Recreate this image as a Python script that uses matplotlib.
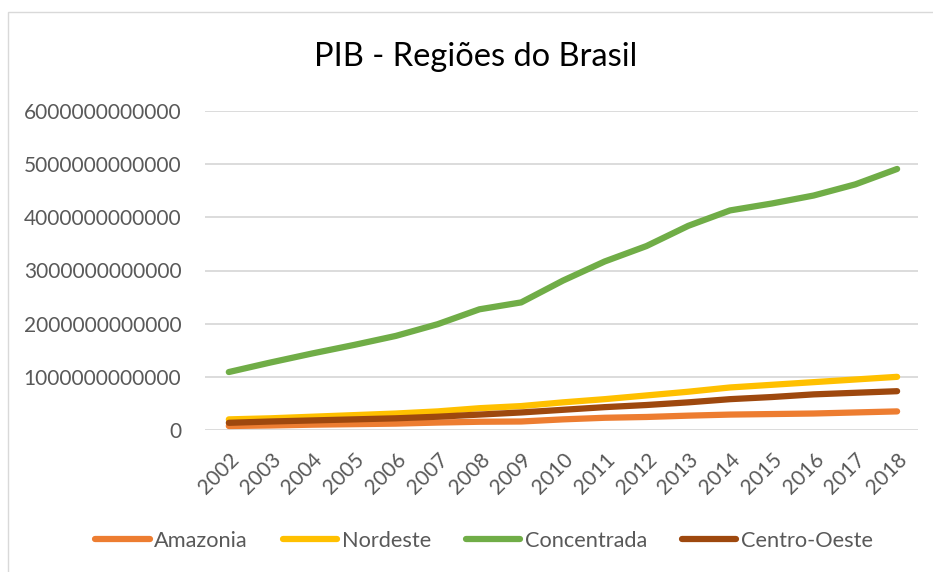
import matplotlib
matplotlib.use("Agg")
import matplotlib.pyplot as plt
from matplotlib.ticker import FuncFormatter, MultipleLocator
from matplotlib.patches import Rectangle

# PIB por região (R$), 2002-2018
anos = [2002, 2003, 2004, 2005, 2006, 2007, 2008, 2009, 2010,
        2011, 2012, 2013, 2014, 2015, 2016, 2017, 2018]

amazonia = [0.075e12, 0.085e12, 0.10e12, 0.11e12, 0.12e12, 0.14e12, 0.155e12, 0.16e12, 0.20e12,
            0.23e12, 0.245e12, 0.27e12, 0.29e12, 0.30e12, 0.31e12, 0.33e12, 0.35e12]
nordeste = [0.20e12, 0.22e12, 0.25e12, 0.28e12, 0.31e12, 0.35e12, 0.41e12, 0.45e12, 0.52e12,
            0.58e12, 0.65e12, 0.72e12, 0.80e12, 0.85e12, 0.90e12, 0.95e12, 1.00e12]
concentrada = [1.09e12, 1.27e12, 1.44e12, 1.60e12, 1.77e12, 1.99e12, 2.27e12, 2.40e12, 2.81e12,
               3.17e12, 3.46e12, 3.84e12, 4.13e12, 4.26e12, 4.41e12, 4.62e12, 4.91e12]
centro_oeste = [0.135e12, 0.16e12, 0.18e12, 0.20e12, 0.22e12, 0.25e12, 0.29e12, 0.33e12, 0.38e12,
                0.43e12, 0.47e12, 0.52e12, 0.58e12, 0.62e12, 0.67e12, 0.70e12, 0.73e12]

series_nomes = ["Amazonia", "Nordeste", "Concentrada", "Centro-Oeste"]
series_valores = [amazonia, nordeste, concentrada, centro_oeste]
cores = ["#ED7D31", "#FFC000", "#70AD47", "#9E480E"]

plt.rcParams["font.family"] = ["Lato", "DejaVu Sans"]
texto_cor = "#595959"

W, H = 933, 572
fig = plt.figure(figsize=(W / 100, H / 100), dpi=100)
fig.patch.set_facecolor("white")

# chart frame (left and top edges visible)
fig.patches.append(Rectangle((8 / W, -0.5), 2.0, 1 - 12 / H + 0.5,
                             transform=fig.transFigure, fill=False,
                             edgecolor="#D9D9D9", linewidth=1.0))

ax_l, ax_r = 205 / W, 918 / W
ax_b, ax_t = 1 - 430 / H, 1 - 111 / H
ax = fig.add_axes([ax_l, ax_b, ax_r - ax_l, ax_t - ax_b])

for nome, valores, cor in zip(series_nomes, series_valores, cores):
    ax.plot(anos, valores, color=cor, linewidth=4.5, solid_capstyle="round",
            solid_joinstyle="round", label=nome)

ax.set_xlim(anos[0] - 0.57, anos[-1] + 0.5)
ax.set_ylim(0, 6e12)
ax.yaxis.set_major_locator(MultipleLocator(1e12))
ax.yaxis.set_major_formatter(FuncFormatter(lambda v, p: f"{v:.0f}"))
ax.set_xticks(anos)
ax.set_xticklabels([str(a) for a in anos], rotation=45, ha="right",
                   rotation_mode="anchor", fontsize=15, color=texto_cor)
ax.tick_params(axis="x", length=0, pad=14)
ax.tick_params(axis="y", length=0, pad=17, labelsize=15, labelcolor=texto_cor)

for s in ax.spines.values():
    s.set_visible(False)
ax.grid(axis="y", color="#D9D9D9", linewidth=1.3)
ax.set_axisbelow(True)

fig.text(0.5 * (312 + 640) / W, 1 - 57 / H, "PIB - Regiões do Brasil",
         ha="center", va="center", fontsize=23.5, color="#000000")

fig.legend(loc="center", bbox_to_anchor=(484 / W, 1 - 541 / H), ncol=4,
           frameon=False, fontsize=15.7, handlelength=2.5, handletextpad=0.2,
           columnspacing=1.6, labelcolor=texto_cor)

fig.savefig("out.png", dpi=100, facecolor="white")
